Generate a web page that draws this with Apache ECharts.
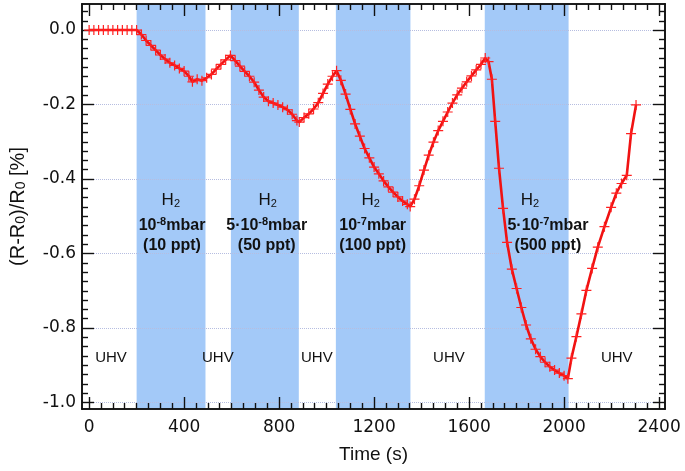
<!DOCTYPE html>
<html><head><meta charset="utf-8">
<script src="https://cdn.jsdelivr.net/npm/echarts@6/dist/echarts.min.js"></script>
<style>html,body{margin:0;padding:0;background:#fff}#c{width:685px;height:471px}</style>
</head><body><div id="c"></div>
<script>
// ---- data ----
const timeS = [0,20,40,60,80,100,120,140,160,180,200,
  220,240,260,280,300,320,340,360,380,400,420,435,455,475,495,515,535,555,575,595,
  615,635,655,675,695,715,735,755,775,795,815,835,855,875,885,
  905,925,945,965,985,1005,1025,1042,
  1060,1080,1100,1120,1140,1160,1180,1200,1220,1240,1260,1280,1300,1320,1340,1352,
  1370,1390,1410,1430,1450,1470,1490,1510,1530,1550,1570,1590,1610,1630,1650,1668,
  1682,1696,1710,1726,1743,1760,1780,1800,1820,1840,1860,1880,1900,1920,1940,1960,1980,2000,2016,
  2031,2052,2073,2094,2118,2142,2170,2198,2220,2242,2264,2282,2303];
const deltaR = [0,0,0,0,0,0,0,0,0,0,0,
  -0.012,-0.028,-0.041,-0.054,-0.067,-0.078,-0.088,-0.095,-0.103,-0.110,-0.124,-0.139,-0.132,-0.136,-0.128,-0.119,-0.105,-0.092,-0.080,-0.068,
  -0.082,-0.097,-0.111,-0.124,-0.140,-0.161,-0.180,-0.191,-0.196,-0.201,-0.207,-0.214,-0.226,-0.243,-0.247,
  -0.235,-0.225,-0.212,-0.195,-0.170,-0.145,-0.124,-0.109,
  -0.135,-0.172,-0.213,-0.252,-0.285,-0.318,-0.343,-0.368,-0.386,-0.405,-0.421,-0.435,-0.448,-0.459,-0.468,-0.474,
  -0.454,-0.418,-0.376,-0.336,-0.301,-0.270,-0.245,-0.220,-0.196,-0.174,-0.156,-0.139,-0.123,-0.107,-0.092,-0.075,
  -0.085,-0.132,-0.245,-0.371,-0.479,-0.570,-0.642,-0.694,-0.745,-0.792,-0.829,-0.857,-0.877,-0.892,-0.904,-0.913,-0.921,-0.928,-0.936,
  -0.881,-0.823,-0.762,-0.699,-0.640,-0.583,-0.528,-0.476,-0.438,-0.412,-0.390,-0.278,-0.201];

const xMajorTicks = [0,400,800,1200,1600,2000,2400];
const yMajorTicks = [0,-0.2,-0.4,-0.6,-0.8,-1.0];
const xMinorTicks = [];
for (let t = 0; t <= 2400; t += 50) if (t % 400 !== 0) xMinorTicks.push(t);
const yMinorTicks = [];
for (let k = -40; k <= 2; k++) if (k % 8 !== 0) yMinorTicks.push(k * 0.025);

const bandStart = [200, 597, 1039, 1666];
const bandEnd   = [490, 883, 1353, 2019];

const h2Text   = ['{h|H}{hs|2}','{h|H}{hs|2}','{h|H}{hs|2}','{h|H}{hs|2}'];
const h2Time   = [344, 752, 1186, 1856];
const h2Value  = [-0.456, -0.456, -0.456, -0.456];
const condText = [
  '{b|10}{sup|-8}{b|mbar}\n{b|(10 ppt)}',
  '{b|5·10}{sup|-8}{b|mbar}\n{b|(50 ppt)}',
  '{b|10}{sup|-7}{b|mbar}\n{b|(100 ppt)}',
  '{b|5·10}{sup|-7}{b|mbar}\n{b|(500 ppt)}'];
const condTime  = [349, 748, 1194, 1932];
const condValue = [-0.553, -0.553, -0.553, -0.553];
const uhvText  = ['UHV','UHV','UHV','UHV','UHV'];
const uhvTime  = [92, 542, 959, 1515, 2222];
const uhvValue = [-0.880, -0.880, -0.880, -0.880, -0.880];

// ---- chart ----
const X_MIN = -30, X_MAX = 2425, Y_MIN = -1.0175, Y_MAX = 0.07;
const black = '#111';
const tickFont = {fontFamily:'DejaVu Sans', fontSize:17, color:black};
const rich = {
  h:  {fontFamily:'Liberation Sans', fontSize:17, lineHeight:20, color:black},
  hs: {fontFamily:'Liberation Sans', fontSize:11, lineHeight:9, verticalAlign:'bottom', color:black},
  b:  {fontFamily:'Liberation Sans', fontSize:16, fontWeight:'bold', lineHeight:20, color:black},
  sup:{fontFamily:'Liberation Sans', fontSize:11, fontWeight:'bold', lineHeight:10, verticalAlign:'top', color:black},
  u:  {fontFamily:'Liberation Sans', fontSize:15, color:black}
};

function xAx(pos, ticks, len, labels) {
  const a = {
    type:'value', position:pos, min:X_MIN, max:X_MAX, z:3,
    axisLine:{show:true, onZero:false, lineStyle:{color:black, width:1.6}},
    axisTick:{show:true, inside:true, length:len, customValues:ticks, lineStyle:{color:black, width:1.4}},
    axisLabel:{show:!!labels, customValues:ticks, margin:10, formatter:v=>String(v), ...tickFont},
    splitLine:{show:false}
  };
  if (labels) {
    a.name = 'Time (s)'; a.nameLocation = 'middle'; a.nameGap = 36;
    a.nameTextStyle = {fontFamily:'Liberation Sans', fontSize:19, color:black};
  }
  return a;
}
function yAx(pos, ticks, len, labels) {
  const a = {
    type:'value', position:pos, min:Y_MIN, max:Y_MAX, z:3,
    axisLine:{show:true, onZero:false, lineStyle:{color:black, width:1.6}},
    axisTick:{show:true, inside:true, length:len, customValues:ticks, lineStyle:{color:black, width:1.4}},
    axisLabel:{show:!!labels, customValues:ticks, margin:6, formatter:v=>v.toFixed(1), ...tickFont},
    splitLine:{show:!!labels, lineStyle:{color:'#b6bde0', type:'dotted', width:1}}
  };
  if (labels) {
    a.name = '(R-R{s|0})/R{s|0} [%]'; a.nameLocation = 'middle'; a.nameGap = 54; a.nameRotate = 90;
    a.nameTextStyle = {fontFamily:'Liberation Sans', fontSize:20, color:black,
      rich:{s:{fontFamily:'Liberation Sans', fontSize:14, lineHeight:10, verticalAlign:'bottom', color:black}}};
  }
  return a;
}

const marks = [];
h2Text.forEach((t,i)=>marks.push({coord:[h2Time[i], h2Value[i]], label:{formatter:t}}));
condText.forEach((t,i)=>marks.push({coord:[condTime[i], condValue[i]], label:{formatter:t}}));
uhvText.forEach((t,i)=>marks.push({coord:[uhvTime[i], uhvValue[i]], label:{formatter:'{u|'+t+'}'}}));

const chart = echarts.init(document.getElementById('c'), null, {renderer:'canvas'});
chart.setOption({
  animation:false,
  backgroundColor:'#fff',
  grid:{left:82, top:4, width:583, height:405, containLabel:false, outerBoundsMode:'none'},
  xAxis:[xAx('bottom', xMajorTicks, 12, true), xAx('bottom', xMinorTicks, 6, false),
         xAx('top', xMajorTicks, 12, false), xAx('top', xMinorTicks, 6, false)],
  yAxis:[yAx('left', yMajorTicks, 12, true), yAx('left', yMinorTicks, 6, false),
         yAx('right', yMajorTicks, 12, false), yAx('right', yMinorTicks, 6, false)],
  series:[{
    type:'line', xAxisIndex:0, yAxisIndex:0, z:4,
    data: timeS.map((t,i)=>[t, deltaR[i]]),
    symbol:'path://M0,4.4H10V5.6H0Z M4.4,0H5.6V10H4.4Z', symbolSize:10, showAllSymbol:true,
    itemStyle:{color:'#ff2020'},
    lineStyle:{color:'#f01212', width:2.6},
    markArea:{silent:true, z:1, itemStyle:{color:'#a3c9f8'}, label:{show:false},
      data: bandStart.map((s,i)=>[{xAxis:s},{xAxis:bandEnd[i]}])},
    markPoint:{silent:true, symbol:'circle', symbolSize:0,
      label:{show:true, position:'inside', align:'center', verticalAlign:'middle', rich:rich},
      data: marks}
  }]
});
</script></body></html>
